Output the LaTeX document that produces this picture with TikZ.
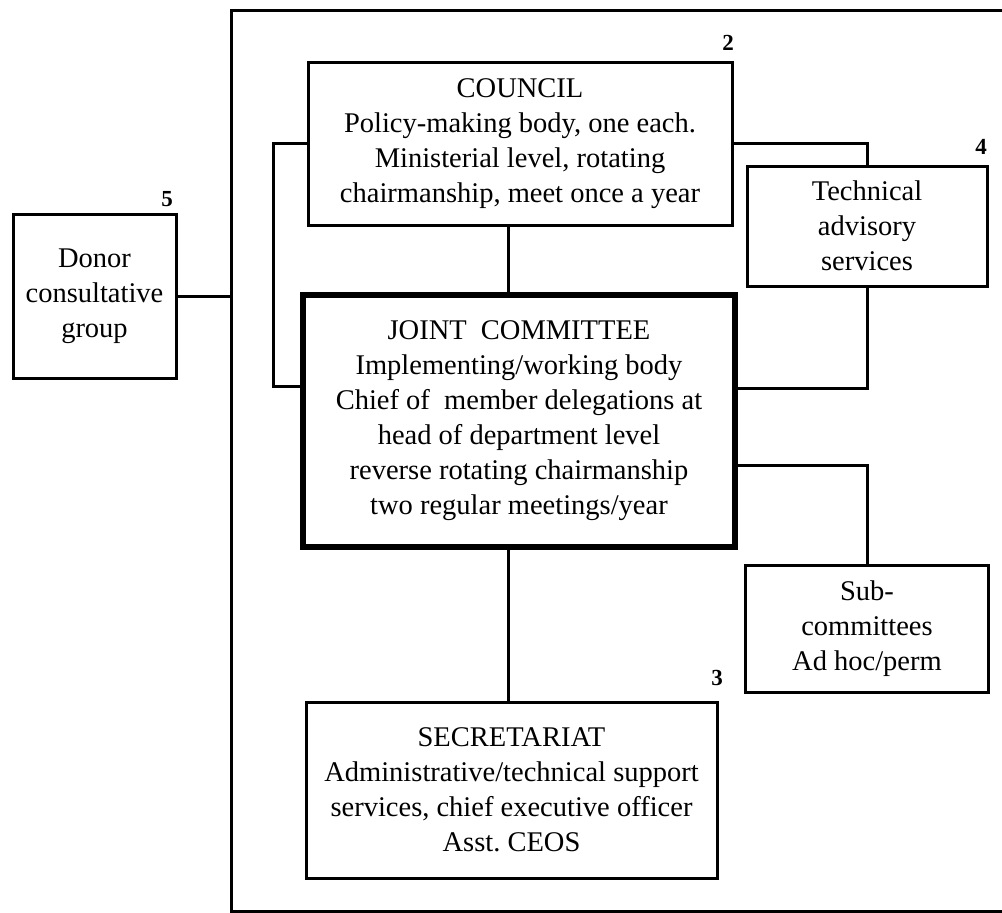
\documentclass[tikz,border=0pt]{standalone}
\usepackage{fontspec}
\setmainfont{Liberation Serif}

\begin{document}
\begin{tikzpicture}[x=1pt,y=-1pt,
  box/.style={draw,line width=3pt,align=center,inner sep=0pt,font=\fontsize{28.5}{35}\selectfont},
  jbox/.style={box,line width=5.5pt},
  conn/.style={line width=3pt},
  num/.style={inner sep=0pt,font=\bfseries\fontsize{23}{23}\selectfont}]

\useasboundingbox (0,0) rectangle (1002,913);

\node[draw,line width=3pt,minimum width=779pt,minimum height=901pt] (frame) at (620.5,460.5) {};

\node[box,minimum width=424pt,minimum height=163pt] (council) at (520,143.5) {COUNCIL\\Policy-making body, one each.\\Ministerial level, rotating\\chairmanship, meet once a year};
\node[jbox,minimum width=432pt,minimum height=252pt] (joint) at (519,421) {JOINT~ COMMITTEE\\Implementing/working body\\Chief of~ member delegations at\\head of department level\\reverse rotating chairmanship\\two regular meetings/year};
\node[box,minimum width=411pt,minimum height=176pt] (secr) at (511.5,790) {SECRETARIAT\\Administrative/technical support\\services, chief executive officer\\Asst.\ CEOS};
\node[box,minimum width=240pt,minimum height=120pt] (tech) at (867,226) {Technical\\advisory\\services};
\node[box,minimum width=243pt,minimum height=127pt] (sub) at (867,628.5) {Sub-\\committees\\Ad hoc/perm};
\node[box,minimum width=163pt,minimum height=164pt] (donor) at (94.5,296) {Donor\\consultative\\group};

\node[num] (n2) at (728,43) {2};
\node[num] (n4) at (981,147) {4};
\node[num] (n5) at (167,199) {5};
\node[num] (n3) at (717,678) {3};

\coordinate (spine) at (508,0);
\coordinate (loopl) at (273,386);
\coordinate (loopr) at (867,388);
\coordinate (subr) at (867,465);

\draw[conn] (donor.east) -- (donor.east -| frame.west);
\draw[conn] (spine |- council.south) -- (spine |- joint.north);
\draw[conn] (spine |- joint.south) -- (spine |- secr.north);
\draw[conn] (council.west) -| (loopl) -- (loopl -| joint.west);
\draw[conn] (council.east) -| (tech.north);
\draw[conn] (tech.south) -- (loopr) -- (loopr -| joint.east);
\draw[conn] (subr -| joint.east) -- (subr) -- (sub.north);

\end{tikzpicture}
\end{document}
